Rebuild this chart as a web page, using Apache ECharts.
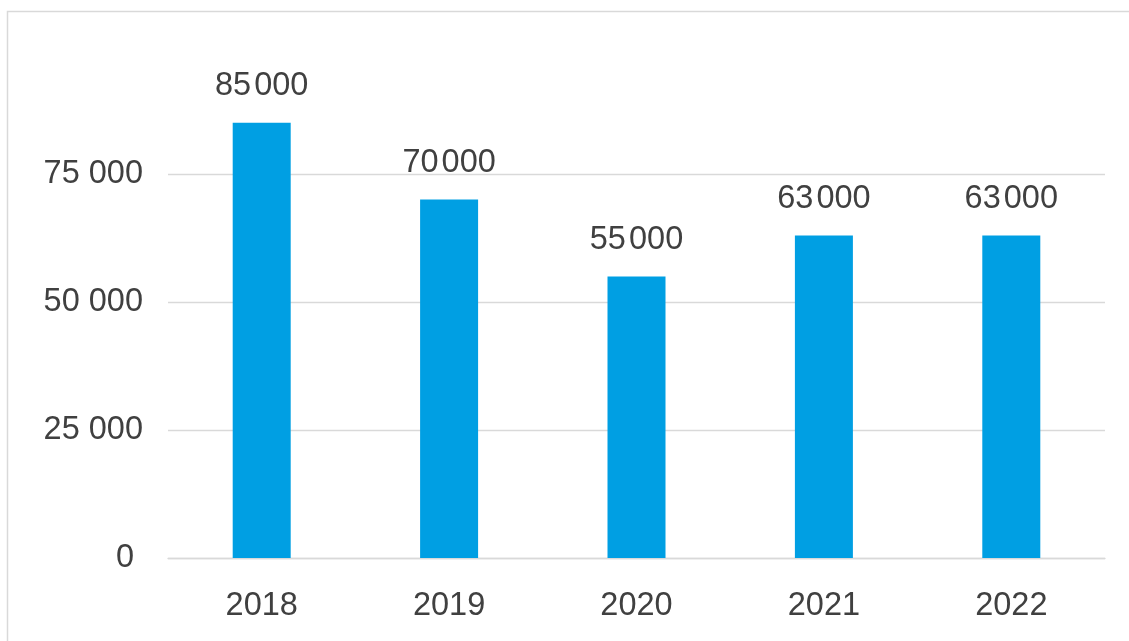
<!DOCTYPE html>
<html>
<head>
<meta charset="utf-8">
<script src="https://cdn.jsdelivr.net/npm/echarts@6/dist/echarts.min.js"></script>
<style>
html,body{margin:0;padding:0;background:#fff;}
#chart{width:1129px;height:641px;}
</style>
</head>
<body>
<div id="chart"></div>
<script>
var categories = ['2018', '2019', '2020', '2021', '2022'];
var values = [85000, 70000, 55000, 63000, 63000];
var yTicks = [0, 25000, 50000, 75000, 100000];

function fmtSpace(v, sep) {
  return String(v).replace(/\B(?=(\d{3})+(?!\d))/g, sep);
}

var FS = 32.5;
var chart = echarts.init(document.getElementById('chart'));
chart.setOption({
  animation: false,
  backgroundColor: '#ffffff',
  textStyle: { fontFamily: 'Liberation Sans, Arial, sans-serif' },
  graphic: [{
    type: 'rect',
    shape: { x: 7.5, y: 11.5, width: 1300, height: 800 },
    style: { fill: 'none', stroke: '#d9d9d9', lineWidth: 1.5 },
    silent: true
  }],
  grid: { left: 168, right: 24, top: 46, bottom: 83, containLabel: false },
  xAxis: {
    type: 'category',
    data: categories,
    axisLine: { show: true, lineStyle: { color: '#d9d9d9', width: 1.3 } },
    axisTick: { show: false },
    axisLabel: { color: '#404040', fontSize: FS, margin: 32, fontFamily: 'Liberation Sans' }
  },
  yAxis: {
    type: 'value',
    min: yTicks[0],
    max: yTicks[yTicks.length - 1],
    interval: yTicks[1] - yTicks[0],
    axisLine: { show: false },
    axisTick: { show: false },
    splitLine: { show: true, showMaxLine: false, lineStyle: { color: '#d9d9d9', width: 1.3 } },
    axisLabel: {
      color: '#404040', fontSize: FS, margin: 25, showMaxLabel: false,
      fontFamily: 'Liberation Sans',
      formatter: function (v) { return v === 0 ? '0\u00a0' : fmtSpace(v, ' '); }
    }
  },
  series: [{
    type: 'bar',
    data: values,
    barWidth: 58,
    itemStyle: { color: '#009FE3' },
    label: {
      show: true,
      position: 'top',
      distance: 20,
      color: '#404040',
      fontSize: FS,
      fontFamily: 'Liberation Sans',
      formatter: function (p) {
        var s = String(p.value);
        var head = s.slice(0, s.length - 3), tail = s.slice(s.length - 3);
        return '{n|' + head + '}{s| }{n|' + tail + '}';
      },
      rich: {
        n: { fontSize: FS, color: '#404040', fontFamily: 'Liberation Sans' },
        s: { fontSize: 11, fontFamily: 'Liberation Sans' }
      }
    }
  }]
});
</script>
</body>
</html>
